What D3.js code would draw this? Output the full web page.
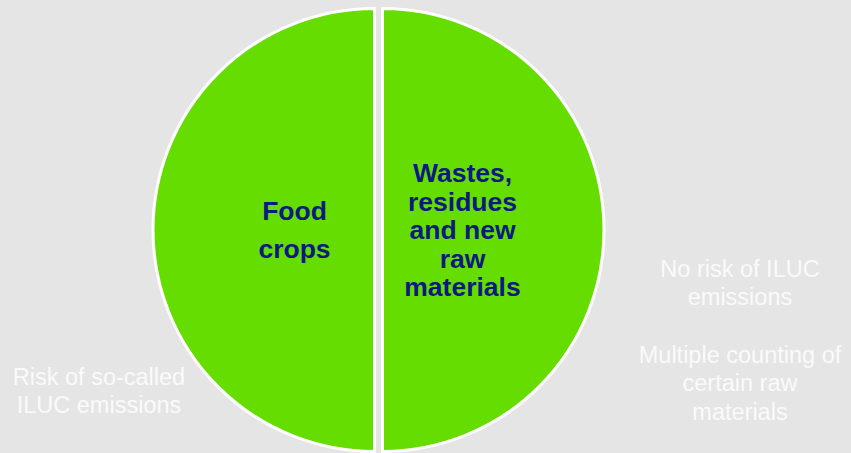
<!DOCTYPE html>
<html><head><meta charset="utf-8">
<script src="https://cdn.jsdelivr.net/npm/d3@7"></script>
<style>html,body{margin:0;padding:0;background:#e5e5e5;}svg{display:block;}</style>
</head><body>
<svg id="chart" width="851" height="453"></svg>
<script>
const categories = ["Wastes, residues and new raw materials", "Food crops"];
const values = [50, 50];
const labelLines = [["Wastes,", "residues", "and new", "raw", "materials"], ["Food", "crops"]];
const notesLeft = ["Risk of so-called", "ILUC emissions"];
const notesRight = ["No risk of ILUC", "emissions", "", "Multiple counting of", "certain raw", "materials"];

const svg = d3.select("#chart");
const W = 851, H = 453;
svg.append("rect").attr("width", W).attr("height", H).attr("fill", "#e5e5e5");

const cx = 378.5, cy = 230, r = 221.5, explode = 4;
const pie = d3.pie().sort(null).value(d => d)(values);
const arc = d3.arc().innerRadius(0).outerRadius(r);
const labelArc = d3.arc().innerRadius(80).outerRadius(80);

const g = svg.append("g").attr("transform", `translate(${cx},${cy})`);
const slices = g.selectAll("g.slice").data(pie).join("g").attr("class", "slice")
  .attr("transform", d => {
    const a = (d.startAngle + d.endAngle) / 2;
    return `translate(${Math.sin(a) * explode},${-Math.cos(a) * explode})`;
  });
slices.append("path").attr("d", arc).attr("fill", "#66dd00")
  .attr("stroke", "#ffffff").attr("stroke-width", 3);

const lineH = [28.5, 38];
slices.each(function(d, i) {
  const [lx, ly] = labelArc.centroid(d);
  const lines = labelLines[i];
  const t = d3.select(this).append("text")
    .attr("text-anchor", "middle")
    .attr("font-family", "Liberation Sans, Arial, sans-serif")
    .attr("font-weight", "bold").attr("font-size", 26.5)
    .attr("fill", "#0a1a80");
  lines.forEach((s, k) => {
    t.append("tspan").attr("x", lx)
      .attr("y", ly + (k - (lines.length - 1) / 2) * lineH[i] + 9)
      .text(s);
  });
});

function notes(lines, x, y0, dy) {
  const t = svg.append("text").attr("text-anchor", "middle")
    .attr("font-family", "Liberation Sans, Arial, sans-serif")
    .attr("font-size", 23.5).attr("fill", "#fafafa");
  lines.forEach((s, k) => {
    t.append("tspan").attr("x", x).attr("y", y0 + k * dy).text(s);
  });
}
notes(notesLeft, 99, 385, 27.5);
notes(notesRight, 740, 276.5, 28.7);
</script>
</body></html>
